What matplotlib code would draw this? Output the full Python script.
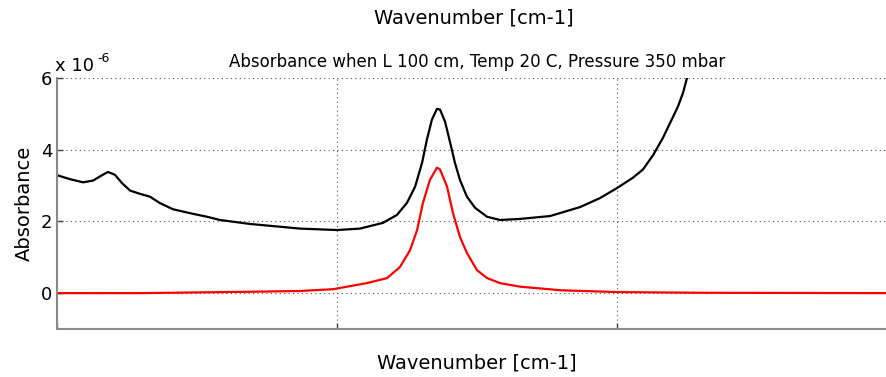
import matplotlib
matplotlib.use("Agg")
import matplotlib.pyplot as plt

plt.rcParams['font.family'] = ['DejaVu Sans']

# wavenumber axis (arbitrary units, tick labels are hidden in the original)
x_total = [0.000, 0.046, 0.093, 0.129, 0.161, 0.182, 0.207, 0.232, 0.261, 0.296,
           0.332, 0.368, 0.414, 0.475, 0.536, 0.582, 0.689, 0.868, 1.000, 1.082,
           1.164, 1.214, 1.250, 1.279, 1.304, 1.321, 1.339, 1.357, 1.368, 1.386,
           1.404, 1.421, 1.439, 1.464, 1.493, 1.536, 1.582, 1.654, 1.761, 1.868,
           1.939, 2.000, 2.057, 2.093, 2.129, 2.164, 2.196, 2.218, 2.236, 2.250,
           2.270]
a_total = [3.29, 3.18, 3.09, 3.14, 3.29, 3.38, 3.30, 3.07, 2.86, 2.77,
           2.69, 2.51, 2.34, 2.23, 2.13, 2.04, 1.93, 1.80, 1.76, 1.80,
           1.96, 2.18, 2.52, 2.97, 3.64, 4.28, 4.84, 5.14, 5.12, 4.78,
           4.20, 3.64, 3.16, 2.69, 2.38, 2.13, 2.04, 2.07, 2.15, 2.40,
           2.65, 2.93, 3.22, 3.45, 3.85, 4.33, 4.85, 5.21, 5.59, 6.00,
           6.50]

x_line = [0.000, 0.300, 0.500, 0.700, 0.868, 0.986, 1.107, 1.179, 1.225, 1.261,
          1.286, 1.307, 1.332, 1.357, 1.368, 1.393, 1.414, 1.439, 1.464, 1.500,
          1.536, 1.582, 1.654, 1.800, 2.000, 2.300, 3.000]
a_line = [0.00, 0.00, 0.02, 0.04, 0.06, 0.11, 0.28, 0.42, 0.73, 1.20,
          1.76, 2.52, 3.16, 3.50, 3.45, 2.97, 2.24, 1.57, 1.12, 0.64,
          0.42, 0.28, 0.18, 0.08, 0.03, 0.01, 0.00]

scale = 1e-6
yticks = [0, 2, 4, 6]
xticks = [0, 1, 2, 3]

fig = plt.figure(figsize=(8.87, 3.77), dpi=100)
ax = fig.add_axes([57 / 887, 1 - 329 / 377, 840 / 887, 251 / 377])

ax.plot(x_total, [v * scale for v in a_total], color='black', lw=1.6)
ax.plot(x_line, [v * scale for v in a_line], color='red', lw=1.6)

ax.set_xlim(0, 3)
ax.set_ylim(-1 * scale, 6 * scale)
ax.set_xticks(xticks)
ax.set_xticklabels([])
ax.set_yticks([t * scale for t in yticks])
ax.set_yticklabels([str(t) for t in yticks], fontsize=13)
ax.tick_params(direction='in', length=4, color='#404040', width=1)
ax.grid(True, linestyle=(0, (1, 3)), color='#505050', lw=0.8)

for side in ['top', 'right']:
    ax.spines[side].set_visible(False)
for side in ['left', 'bottom']:
    ax.spines[side].set_color('#8a8a8a')
    ax.spines[side].set_linewidth(1.5)

ax.set_ylabel('Absorbance', fontsize=14, labelpad=5)
ax.set_xlabel('Wavenumber [cm-1]', fontsize=14, labelpad=14)
ax.set_title('Absorbance when L 100 cm, Temp 20 C, Pressure 350 mbar', fontsize=12, pad=8)
fig.text(474 / 887, 1 - 18 / 377, 'Wavenumber [cm-1]', fontsize=14, ha='center', va='center')

# exponent label in the corner
fig.text(55 / 887, 1 - 66 / 377, 'x 10', fontsize=13, ha='left', va='center')
fig.text(97 / 887, 1 - 58 / 377, '-6', fontsize=9, ha='left', va='center')

fig.savefig('out.png', dpi=100)
